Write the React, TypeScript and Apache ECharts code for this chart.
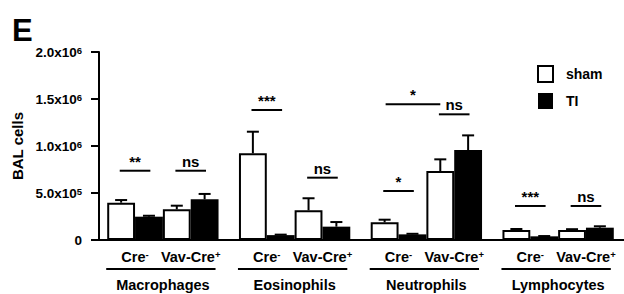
import React, { useEffect, useRef } from 'react';
import * as echarts from 'echarts';

// ---------- data ----------
const categories = ['Macrophages', 'Eosinophils', 'Neutrophils', 'Lymphocytes'];
const genotypes = ['Cre', 'Vav-Cre'];
const genotypeSigns = ['-', '+'];
const treatments = ['sham', 'TI'];

const creSham = [397000, 922000, 188000, 106000];
const creShamSem = [28000, 230000, 28000, 11000];
const creTI = [248000, 52000, 60000, 39000];
const creTISem = [10000, 5000, 6000, 3000];
const vavSham = [327000, 316000, 734000, 106000];
const vavShamSem = [38000, 128000, 124000, 9000];
const vavTI = [433000, 142000, 957000, 131000];
const vavTISem = [57000, 49000, 156000, 15000];

const yTicks = [0, 500000, 1000000, 1500000, 2000000];
const yTickMantissa = ['0', '5.0x10', '1.0x10', '1.5x10', '2.0x10'];
const yTickExponent = ['', '5', '6', '6', '6'];

// significance comparisons (bar index: 0 Cre sham, 1 Cre TI, 2 Vav sham, 3 Vav TI)
const sigCategory = [0, 0, 1, 1, 2, 2, 2, 3, 3];
const sigBarA = [0, 2, 0, 2, 0, 0, 2, 0, 2];
const sigBarB = [1, 3, 1, 3, 1, 2, 3, 1, 3];
const sigHeight = [737000, 737000, 1383000, 663000, 521000, 1444000, 1337000, 362000, 362000];
const sigLabel = ['**', 'ns', '***', 'ns', '*', '*', 'ns', '***', 'ns'];

// ---------- styling ----------
const FONT = '"Liberation Sans", Arial, sans-serif';
const GAP = 0.155;

const barValues = [creSham, creTI, vavSham, vavTI];
const barSems = [creShamSem, creTISem, vavShamSem, vavTISem];

function slotX(api: any, c: number, b: number) {
  const cx = api.coord([c, 0])[0];
  const band = api.size([1, 0])[0];
  const bw = (band * (1 - GAP)) / 4;
  return { x: cx + (b - 1.5) * bw, bw };
}

export default function App() {
  const ref = useRef<HTMLDivElement>(null);
  useEffect(() => {
    document.body.style.margin = '0';
    const chart = echarts.init(ref.current!, null, { renderer: 'svg' });

    const errData: number[][] = [];
    for (let b = 0; b < 4; b++) {
      for (let c = 0; c < categories.length; c++) {
        errData.push([c, barValues[b][c] + barSems[b][c], b, barValues[b][c]]);
      }
    }
    const sigData = sigCategory.map((c, i) => [c, sigHeight[i]]);
    const labelData = categories.map((_, c) => [c, 0]);

    const barSeries = barValues.map((vals, b) => ({
      type: 'bar',
      name: treatments[b % 2],
      data: vals,
      barGap: '0%',
      barCategoryGap: GAP * 100 + '%',
      itemStyle:
        b % 2 === 0
          ? { color: '#fff', borderColor: '#000', borderWidth: 2 }
          : { color: '#000', borderColor: '#000', borderWidth: 0 },
      z: 2,
    }));

    chart.setOption({
      animation: false,
      grid: { left: 97, right: -3, top: 52, bottom: 54 },
      legend: {
        data: treatments,
        orient: 'vertical',
        left: 532,
        top: 60,
        itemWidth: 15,
        itemHeight: 16,
        itemGap: 10,
        icon: 'rect',
        textStyle: { fontFamily: FONT, fontWeight: 'bold', fontSize: 14, color: '#000', padding: [0, 0, 0, 8] },
      },
      xAxis: {
        type: 'category',
        data: categories,
        axisLine: { lineStyle: { color: '#000', width: 2 } },
        axisTick: { show: false },
        axisLabel: { show: false },
      },
      yAxis: {
        type: 'value',
        min: 0,
        max: 2000000,
        interval: 500000,
        offset: -2,
        name: 'BAL cells',
        nameLocation: 'middle',
        nameGap: 68,
        nameTextStyle: { fontFamily: FONT, fontWeight: 'bold', fontSize: 15, color: '#000' },
        axisLine: { show: true, lineStyle: { color: '#000', width: 2 } },
        axisTick: { show: true, length: 8, lineStyle: { color: '#000', width: 2 } },
        splitLine: { show: false },
        axisLabel: {
          margin: 17,
          formatter: (v: number) => {
            const i = yTicks.indexOf(v);
            if (i < 0) return '';
            return yTickExponent[i]
              ? `{m|${yTickMantissa[i]}}{s|${yTickExponent[i]}}`
              : `{m|${yTickMantissa[i]}}`;
          },
          rich: {
            m: { fontFamily: FONT, fontWeight: 'bold', fontSize: 13.5, color: '#000' },
            s: { fontFamily: FONT, fontWeight: 'bold', fontSize: 9.5, color: '#000', verticalAlign: 'top', padding: [0, 0, 4, 0] },
          },
        },
      },
      graphic: [
        {
          type: 'text',
          left: 12,
          top: 15,
          style: { text: 'E', fontFamily: FONT, fontWeight: 'bold', fontSize: 31, fill: '#000' },
        },
      ],
      series: [
        ...barSeries,
        {
          type: 'custom',
          name: 'err',
          data: errData,
          encode: { x: 0, y: 1 },
          z: 3,
          renderItem: (params: any, api: any) => {
            const c = api.value(0);
            const top = api.value(1);
            const b = api.value(2);
            const mean = api.value(3);
            const { x } = slotX(api, c, b);
            const y0 = api.coord([c, mean])[1];
            const y1 = api.coord([c, top])[1];
            const st = { stroke: '#000', lineWidth: 2 };
            return {
              type: 'group',
              children: [
                { type: 'line', shape: { x1: x, y1: y0, x2: x, y2: y1 }, style: st },
                { type: 'line', shape: { x1: x - 6, y1: y1, x2: x + 6, y2: y1 }, style: st },
              ],
            };
          },
        },
        {
          type: 'custom',
          name: 'sig',
          data: sigData,
          encode: { x: 0, y: 1 },
          z: 3,
          renderItem: (params: any, api: any) => {
            const i = params.dataIndex;
            const c = sigCategory[i];
            const a = slotX(api, c, sigBarA[i]);
            const bb = slotX(api, c, sigBarB[i]);
            let x1: number, x2: number;
            if (Math.abs(sigBarB[i] - sigBarA[i]) === 1) {
              const mid = (a.x + bb.x) / 2;
              x1 = mid - 0.55 * a.bw;
              x2 = mid + 0.55 * a.bw;
            } else {
              x1 = a.x + 1;
              x2 = bb.x;
            }
            const y = api.coord([c, sigHeight[i]])[1];
            return {
              type: 'group',
              children: [
                { type: 'line', shape: { x1, y1: y, x2, y2: y }, style: { stroke: '#000', lineWidth: 2 } },
                {
                  type: 'text',
                  x: (x1 + x2) / 2,
                  y: y - 2,
                  style: {
                    text: sigLabel[i],
                    fill: '#000',
                    fontFamily: FONT,
                    fontWeight: 'bold',
                    fontSize: 15,
                    align: 'center',
                    verticalAlign: 'bottom',
                  },
                },
              ],
            };
          },
        },
        {
          type: 'custom',
          name: 'xlabels',
          data: labelData,
          encode: { x: 0, y: 1 },
          clip: false,
          z: 3,
          renderItem: (params: any, api: any) => {
            const c = params.dataIndex;
            const zeroY = api.coord([c, 0])[1];
            const first = slotX(api, c, 0);
            const last = slotX(api, c, 3);
            const children: any[] = [];
            for (let g = 0; g < 2; g++) {
              const p = slotX(api, c, 2 * g + 0.5);
              children.push({
                type: 'text',
                x: p.x,
                y: zeroY + 17,
                style: {
                  text: `{n|${genotypes[g]}}{s|${genotypeSigns[g]}}`,
                  align: 'center',
                  verticalAlign: 'middle',
                  rich: {
                    n: { fontFamily: FONT, fontWeight: 'bold', fontSize: 14.5, fill: '#000' },
                    s: { fontFamily: FONT, fontWeight: 'bold', fontSize: 9.5, fill: '#000', verticalAlign: 'top' },
                  },
                },
              });
            }
            children.push({
              type: 'line',
              shape: { x1: first.x - first.bw / 2 - 1, y1: zeroY + 29, x2: last.x + last.bw / 2 - 3, y2: zeroY + 29 },
              style: { stroke: '#000', lineWidth: 2 },
            });
            const mid = (first.x + last.x) / 2;
            children.push({
              type: 'text',
              x: mid,
              y: zeroY + 45,
              style: {
                text: categories[c],
                fill: '#000',
                fontFamily: FONT,
                fontWeight: 'bold',
                fontSize: 14.5,
                align: 'center',
                verticalAlign: 'middle',
              },
            });
            return { type: 'group', children };
          },
        },
      ],
    });
    return () => chart.dispose();
  }, []);
  return <div ref={ref} style={{ width: 624, height: 294 }} />;
}
